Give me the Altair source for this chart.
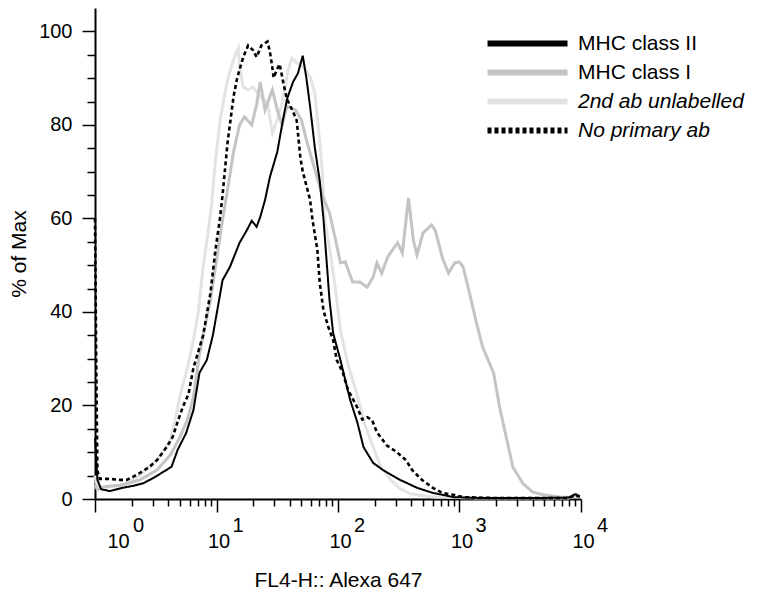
import altair as alt
import pandas as pd

# ---- series (x in decades of FL4-H, y in % of max) ----
series_names = ["MHC class II", "MHC class I", "2nd ab unlabelled", "No primary ab"]
series_colors = ["#000000", "#c4c4c4", "#e3e3e3", "#000000"]

mhc2_dec = [0.00, 0.02, 0.05, 0.12, 0.23, 0.31, 0.40, 0.48, 0.55, 0.63, 0.68, 0.75, 0.81, 0.86, 0.92,
            0.97, 1.05, 1.11, 1.19, 1.25, 1.29, 1.33, 1.36, 1.40, 1.44, 1.50, 1.55, 1.58, 1.63, 1.67,
            1.71, 1.74, 1.77, 1.81, 1.85, 1.88, 1.91, 1.93, 1.96, 2.02, 2.10, 2.16, 2.21, 2.29, 2.37,
            2.51, 2.65, 2.78, 2.86, 2.95, 3.20, 3.60, 3.90, 3.95, 3.99]
mhc2_pct = [13.0, 4.1, 2.1, 1.7, 2.4, 2.8, 3.4, 4.5, 5.6, 6.9, 10.5, 14.1, 19.0, 27.0, 29.7,
            35.0, 46.8, 49.6, 54.8, 57.5, 59.5, 58.2, 60.3, 64.0, 68.9, 74.2, 81.5, 85.5, 89.2, 91.0,
            94.8, 90.0, 84.0, 75.0, 68.0, 60.0, 49.6, 42.6, 35.5, 29.7, 21.2, 16.3, 11.1, 7.7, 6.2,
            4.1, 2.4, 1.3, 0.9, 0.4, 0.2, 0.2, 0.3, 1.0, 0.6]

mhc1_dec = [0.00, 0.02, 0.07, 0.23, 0.37, 0.51, 0.62, 0.70, 0.76, 0.81, 0.86, 0.95, 1.00, 1.05, 1.09,
            1.14, 1.19, 1.23, 1.29, 1.33, 1.36, 1.40, 1.46, 1.50, 1.54, 1.58, 1.65, 1.70, 1.74, 1.81,
            1.87, 1.93, 1.98, 2.02, 2.06, 2.12, 2.18, 2.24, 2.29, 2.32, 2.36, 2.41, 2.49, 2.53, 2.58,
            2.62, 2.65, 2.70, 2.77, 2.80, 2.86, 2.91, 2.96, 3.00, 3.03, 3.09, 3.14, 3.19, 3.28, 3.33,
            3.39, 3.44, 3.52, 3.60, 3.69, 3.83, 3.93, 3.96, 3.99]
mhc1_pct = [3.0, 2.0, 2.6, 3.0, 4.1, 6.2, 9.4, 13.3, 16.9, 21.8, 31.0, 42.6, 51.1, 59.7, 66.0,
            74.2, 80.0, 81.7, 80.0, 84.3, 89.2, 83.2, 87.5, 83.2, 80.0, 84.0, 83.2, 81.0, 76.8, 70.4,
            65.0, 61.2, 55.4, 50.5, 50.7, 46.4, 46.4, 45.3, 47.5, 50.5, 48.3, 51.8, 54.8, 52.6, 64.4,
            55.4, 52.2, 56.9, 58.6, 57.5, 51.5, 48.3, 50.5, 50.7, 49.6, 43.2, 37.6, 32.5, 27.0, 19.7,
            12.6, 6.8, 3.4, 1.5, 0.9, 0.4, 0.4, 1.1, 0.6]

ab2_dec = [0.00, 0.02, 0.07, 0.23, 0.37, 0.51, 0.62, 0.66, 0.70, 0.76, 0.81, 0.85, 0.89, 0.93, 0.96,
           0.99, 1.03, 1.09, 1.14, 1.17, 1.18, 1.19, 1.22, 1.26, 1.30, 1.36, 1.42, 1.46, 1.50, 1.54,
           1.59, 1.62, 1.66, 1.71, 1.77, 1.81, 1.84, 1.87, 1.89, 1.93, 1.98, 2.02, 2.08, 2.16, 2.22,
           2.27, 2.35, 2.43, 2.51, 2.59, 2.67, 2.80, 3.20, 3.90, 3.95, 3.99]
ab2_pct = [5.0, 2.5, 2.5, 3.0, 5.1, 8.3, 12.6, 17.0, 22.0, 28.0, 34.0, 40.0, 49.6, 56.9, 63.0,
           72.0, 81.1, 89.6, 93.9, 96.0, 96.5, 92.4, 88.1, 87.5, 88.1, 86.0, 84.7, 78.3, 81.1, 84.7,
           91.8, 94.3, 93.3, 92.4, 90.3, 86.8, 78.9, 70.4, 59.7, 53.9, 44.7, 36.1, 29.0, 22.0, 16.0,
           12.5, 7.0, 4.2, 2.2, 1.2, 0.8, 0.4, 0.2, 0.2, 0.7, 0.4]

nop_dec = [0.00, 0.01, 0.02, 0.04, 0.12, 0.21, 0.26, 0.31, 0.37, 0.45, 0.51, 0.59, 0.64, 0.68, 0.72,
           0.77, 0.81, 0.89, 0.95, 0.99, 1.03, 1.05, 1.09, 1.14, 1.17, 1.22, 1.26, 1.30, 1.33, 1.37,
           1.42, 1.44, 1.46, 1.47, 1.50, 1.52, 1.55, 1.58, 1.63, 1.66, 1.69, 1.71, 1.77, 1.79, 1.83,
           1.85, 1.88, 1.92, 1.96, 1.99, 2.04, 2.08, 2.16, 2.20, 2.24, 2.28, 2.32, 2.40, 2.48, 2.56,
           2.61, 2.69, 2.78, 2.86, 2.95, 3.03, 3.30, 3.90, 3.95, 3.99]
nop_pct = [60.0, 30.0, 6.0, 4.3, 4.3, 4.1, 4.1, 4.7, 5.6, 6.9, 8.3, 11.1, 13.3, 16.5, 19.5,
           22.5, 28.0, 35.0, 44.0, 53.0, 60.3, 65.0, 76.0, 86.0, 90.0, 94.5, 97.0, 96.0, 94.5, 97.0,
           97.8, 95.6, 92.2, 90.1, 92.0, 93.0, 89.0, 85.5, 82.8, 81.0, 73.0, 70.0, 64.0, 59.7, 53.3,
           46.2, 40.4, 36.8, 34.0, 29.7, 27.0, 23.5, 19.5, 17.0, 17.5, 16.9, 14.3, 11.5, 10.1, 8.3,
           6.2, 4.1, 2.4, 1.3, 0.9, 0.4, 0.2, 0.2, 0.8, 0.5]

x_major = [1, 10, 100, 1000, 10000]
x_ticks = [m * k for m in [1, 10, 100, 1000] for k in range(1, 10)] + [10000]
y_ticks = list(range(0, 101, 5))

series_data = {
    "MHC class II": (mhc2_dec, mhc2_pct),
    "MHC class I": (mhc1_dec, mhc1_pct),
    "2nd ab unlabelled": (ab2_dec, ab2_pct),
    "No primary ab": (nop_dec, nop_pct),
}
rows = []
for name, (decs, pcts) in series_data.items():
    assert len(decs) == len(pcts), name
    for d, p in zip(decs, pcts):
        rows.append({"series": name, "fl4": 10 ** d, "pct": p})
df = pd.DataFrame(rows)

FONT = "Liberation Sans"
W, H = 486, 491

xscale = alt.Scale(type="log", domain=[1, 10000], nice=False)
yscale = alt.Scale(domain=[0, 105], nice=False)

major_test = "indexof([1,10,100,1000,10000], datum.value) >= 0"

x_axis = alt.Axis(
    values=x_ticks,
    labelExpr=f"{major_test} ? '10' : ''",
    tickSize={"condition": {"test": major_test, "value": 13}, "value": 7},
    labelOffset={"condition": {"test": "datum.value == 1", "value": 23}, "value": 2},
    labelPadding=19, labelFlush=False, labelOverlap=False, grid=False,
    labelFontSize=20, title="FL4-H:: Alexa 647", titlePadding=18, titleFontSize=21,
)
y_axis = alt.Axis(
    values=y_ticks,
    labelExpr="datum.value % 20 == 0 ? datum.label : ''",
    tickSize={"condition": {"test": "datum.value % 20 == 0", "value": 13}, "value": 8},
    labelPadding=10, labelOverlap=False, grid=False, labelFontSize=20,
    title="% of Max", titlePadding=9, titleFontSize=21,
)

legend = alt.Legend(
    title=None, orient="none", legendX=458, legendY=25,
    symbolType="M-19,0H1", symbolSize=64, symbolStrokeWidth=6,
    labelFont=FONT, labelFontSize=21, labelLimit=400,
    labelColor="#000000", labelOffset=4, rowPadding=4, padding=0,
    labelFontStyle=alt.ExprRef(expr="indexof(['2nd ab unlabelled','No primary ab'], datum.label) >= 0 ? 'italic' : 'normal'"),
)

color = alt.Color("series:N", scale=alt.Scale(domain=series_names, range=series_colors), legend=legend)
dash = alt.StrokeDash("series:N",
                      scale=alt.Scale(domain=series_names, range=[[1, 0], [1, 0], [1, 0], [4, 3]]),
                      legend=legend)

draw_order = [("2nd ab unlabelled", 3), ("MHC class I", 3), ("No primary ab", 2.6), ("MHC class II", 2)]
line_layers = []
for name, w in draw_order:
    line_layers.append(
        alt.Chart(df).transform_filter(alt.datum.series == name)
        .mark_line(strokeWidth=w)
        .encode(
            x=alt.X("fl4:Q", scale=xscale, axis=x_axis),
            y=alt.Y("pct:Q", scale=yscale, axis=y_axis),
            color=color,
            strokeDash=dash,
        )
    )
lines = alt.layer(*line_layers)

exp_df = pd.DataFrame({"fl4": x_major})
exp_layer = alt.Chart(exp_df).mark_point(opacity=0).encode(
    x=alt.X("fl4:Q", scale=xscale, axis=alt.Axis(
        orient="bottom", values=x_major, domain=False, ticks=False, tickSize=0,
        labelExpr="format(log(datum.value) / LN10, '.0f')",
        labelOffset={"condition": {"test": "datum.value == 1", "value": 43}, "value": 21},
        labelPadding=16, labelFlush=False, labelOverlap=False, grid=False,
        labelFontSize=20, title=None)),
    y=alt.value(0),
)

chart = (
    alt.layer(lines, exp_layer)
    .resolve_axis(x="independent")
    .properties(
        width=W, height=H,
        padding={"left": 87, "top": 0, "right": 170, "bottom": 96},
        autosize=alt.AutoSizeParams(type="none"),
        background="white",
    )
    .configure_view(stroke=None)
    .configure_axis(
        domainColor="#000000", domainWidth=2, tickColor="#000000", tickWidth=1.5,
        labelColor="#000000", titleColor="#000000", labelFont=FONT, titleFont=FONT,
        titleFontWeight="normal",
    )
)

chart.save("out.html", embed_options={"renderer": "svg", "actions": False})
